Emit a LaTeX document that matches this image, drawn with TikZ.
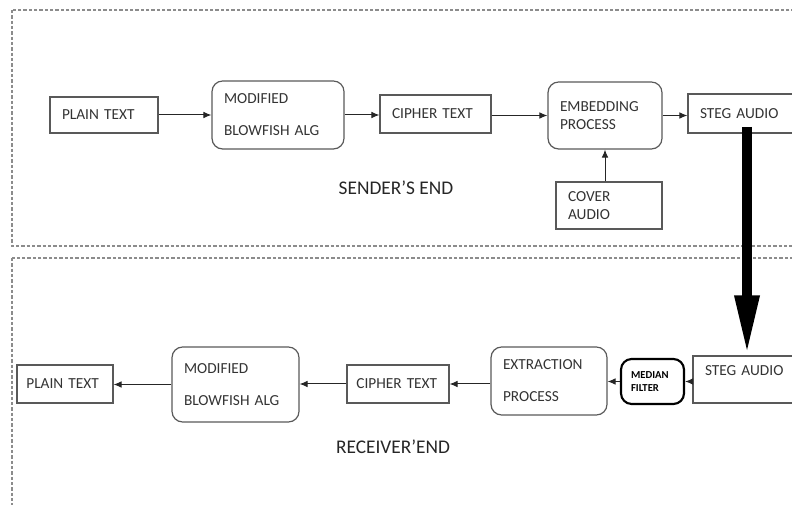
\documentclass[tikz,border=0pt]{standalone}
\usepackage{fontspec}
\setmainfont{Carlito}
\usetikzlibrary{arrows.meta}

\begin{document}
\begin{tikzpicture}[
            x=0.75pt, y=-0.75pt,          % one unit per pixel, y downwards
            every node/.style={
                font=\fontsize{11.5}{14}\selectfont,
                text=black!80
            },
            box/.style={
                draw=black!65,
                line width=0.9pt,
                rectangle,
                align=left,
                inner xsep=9pt,
                inner ysep=2pt
            },
            roundbox/.style={box, rounded corners=8pt},
            region/.style={draw=black!45, line width=0.8pt, dash pattern=on 2.5pt off 1.5pt},
            arrow/.style={-{Latex[length=6pt,width=5pt]}, line width=0.75pt, draw=black!85},
            bigarrow/.style={-{Triangle[length=45pt,width=17pt]}, line width=7.5pt}
        ]
            \useasboundingbox (0,0) rectangle (792,505);
            \clip (0,0) rectangle (792,505);

            % the two ends
            \draw[region] (12,10) rectangle (810,246);
            \draw[region] (12,258) rectangle (810,520);

            % sender's end
            \node[box, text width=63pt, minimum height=27pt] (plain1) at (104,115) {PLAIN TEXT};
            \node[roundbox, text width=81pt, minimum height=51pt] (blowfish1) at (278,115) {MODIFIED\\[10pt]BLOWFISH ALG};
            \node[box, text width=65.25pt, minimum height=28.5pt] (cipher1) at (435.5,114) {CIPHER TEXT};
            \node[roundbox, text width=67.5pt, minimum height=50.25pt] (embed) at (605,115.5) {EMBEDDING\\PROCESS};
            \node[box, text width=66pt, minimum height=29.25pt] (steg1) at (744,113.5) {STEG AUDIO};
            \node[box, text width=61.5pt, minimum height=35.25pt] (cover) at (609,205.5) {COVER\\AUDIO};
            \node[font=\fontsize{14.5}{16}\selectfont, text=black!85] (sender) at (396,188) {SENDER’S END};

            % receiver's end
            \node[box, text width=62.25pt, minimum height=35.25pt] (steg2) at (746.5,379.5) {STEG AUDIO\\~};
            \node[roundbox, line width=1.6pt, draw=black, text=black, inner xsep=7.5pt,
                  text width=32.25pt, minimum height=33.75pt,
                  font=\fontsize{8}{10}\selectfont\bfseries] (median) at (652.5,381.5) {MEDIAN\\FILTER};
            \node[roundbox, text width=69pt, minimum height=51pt] (extract) at (549,381) {EXTRACTION\\[10pt]PROCESS};
            \node[box, inner xsep=7pt, text width=62.5pt, minimum height=28.5pt] (cipher2) at (398,384) {CIPHER TEXT};
            \node[roundbox, text width=77.25pt, minimum height=56.25pt] (blowfish2) at (235.5,384.5) {MODIFIED\\[10pt]BLOWFISH ALG};
            \node[box, inner xsep=7pt, text width=58pt, minimum height=28.5pt] (plain2) at (65,384) {PLAIN TEXT};
            \node[font=\fontsize{14.5}{16}\selectfont, text=black!85] (receiver) at (393,447) {RECEIVER’END};

            % edges
            \draw[arrow] (plain1) -- (blowfish1);
            \draw[arrow] (blowfish1) -- (blowfish1 -| cipher1.west);
            \draw[arrow] (cipher1.east |- embed) -- (embed);
            \draw[arrow] (embed) -- (embed -| steg1.west);
            \draw[arrow] (cover.north -| embed) -- (embed.south);

            \draw[arrow] (steg2.west |- median) -- (median);
            \draw[arrow] (median) -- (median -| extract.east);
            \draw[arrow] (extract.west |- cipher2) -- (cipher2);
            \draw[arrow] (cipher2) -- (cipher2 -| blowfish2.east);
            \draw[arrow] (blowfish2) -- (blowfish2 -| plain2.east);

            % sending the steg audio across
            \coordinate (drop) at (747,127);
            \draw[bigarrow] (drop) -- (drop |- steg2.north);
        \end{tikzpicture}
\end{document}
